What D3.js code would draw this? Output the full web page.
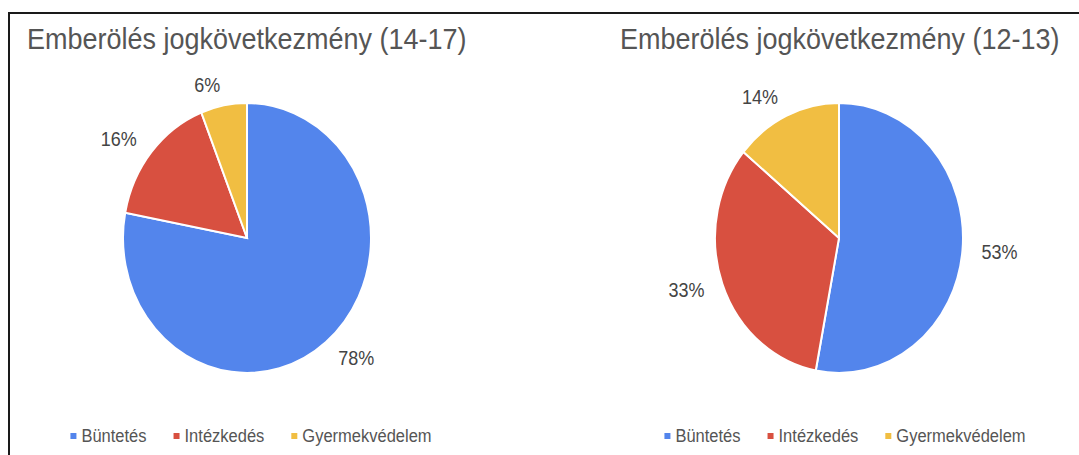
<!DOCTYPE html>
<html>
<head>
  <meta charset="utf-8">
  <title>Emberölés jogkövetkezmény</title>
  <script src="https://cdn.jsdelivr.net/npm/d3@7"></script>
  <style>
    body { margin: 0; background: #fff; }
    text { font-family: Arial, "Liberation Sans", sans-serif; }
  </style>
</head>
<body>
<svg id="chart"></svg>
<script>
  // data
  var categories = ["Büntetés", "Intézkedés", "Gyermekvédelem"];
  var colors = ["#5385ec", "#d85040", "#f1be42"];
  var titles = ["Emberölés jogkövetkezmény (14-17)", "Emberölés jogkövetkezmény (12-13)"];
  var valuesOlder = [78, 16, 6];
  var valuesYounger = [53, 33, 14];

  var width = 1079, height = 455;
  var svg = d3.select("#chart").attr("width", width).attr("height", height);

  // frame of the screenshot
  svg.append("path")
    .attr("d", "M9,455 V13 H1079")
    .attr("fill", "none")
    .attr("stroke", "#1a1a1a")
    .attr("stroke-width", 2);

  var color = d3.scaleOrdinal().domain(categories).range(colors);
  var pie = d3.pie().sort(null).value(function(d) { return d.value; });

  // the picture is a little stretched vertically
  var stretch = 1.088;
  function at(x, y) { return "translate(" + x + "," + y + ") scale(1," + stretch + ")"; }

  var panels = [
    { title: titles[0], values: valuesOlder, cx: 247, cy: 238, r: 124, tx: 27, lx: 251 },
    { title: titles[1], values: valuesYounger, cx: 839, cy: 238, r: 124, tx: 620, lx: 845 }
  ];

  panels.forEach(function(p) {
    var g = svg.append("g");

    g.append("text")
      .attr("transform", at(p.tx, 49))
      .attr("font-size", 27)
      .attr("fill", "#555")
      .text(p.title);

    var rows = categories.map(function(c, i) { return { name: c, value: p.values[i] }; });
    var arcs = pie(rows);
    var arc = d3.arc().innerRadius(0).outerRadius(p.r);

    var pg = g.append("g").attr("transform", at(p.cx, p.cy));
    pg.selectAll("path")
      .data(arcs)
      .enter().append("path")
      .attr("d", arc)
      .attr("fill", function(d) { return color(d.data.name); })
      .attr("stroke", "#fff")
      .attr("stroke-width", 2)
      .attr("vector-effect", "non-scaling-stroke");

    // outside labels
    var dist = p.r + 19;
    g.selectAll("text.lbl")
      .data(arcs)
      .enter().append("text")
      .attr("class", "lbl")
      .attr("font-size", 18)
      .attr("fill", "#444")
      .attr("text-anchor", "middle")
      .attr("dominant-baseline", "central")
      .text(function(d) { return d.data.value + "%"; })
      .each(function(d) {
        var a = (d.startAngle + d.endAngle) / 2;
        var s = Math.sin(a), c = Math.cos(a);
        var w = this.getComputedTextLength();
        var x = p.cx + dist * s + (s < 0 ? -1 : 1) * w / 2;
        var y = p.cy - dist * c * stretch;
        d3.select(this).attr("transform", at(x, y));
      });

    // legend
    var lg = g.append("g");
    var items = lg.selectAll("g")
      .data(categories)
      .enter().append("g");
    items.append("rect")
      .attr("width", 6).attr("height", 6)
      .attr("y", -4)
      .attr("fill", function(d) { return color(d); });
    items.append("text")
      .attr("transform", at(11, 0))
      .attr("font-size", 16.5)
      .attr("fill", "#555")
      .attr("dominant-baseline", "middle")
      .text(function(d) { return d; });
    var xpos = 0;
    items.each(function() {
      var bw = this.getBBox().width;
      d3.select(this).attr("transform", "translate(" + xpos + ",0)");
      xpos += bw + 27;
    });
    var total = xpos - 27;
    lg.attr("transform", "translate(" + (p.lx - total / 2) + ",437)");
  });
</script>
</body>
</html>
